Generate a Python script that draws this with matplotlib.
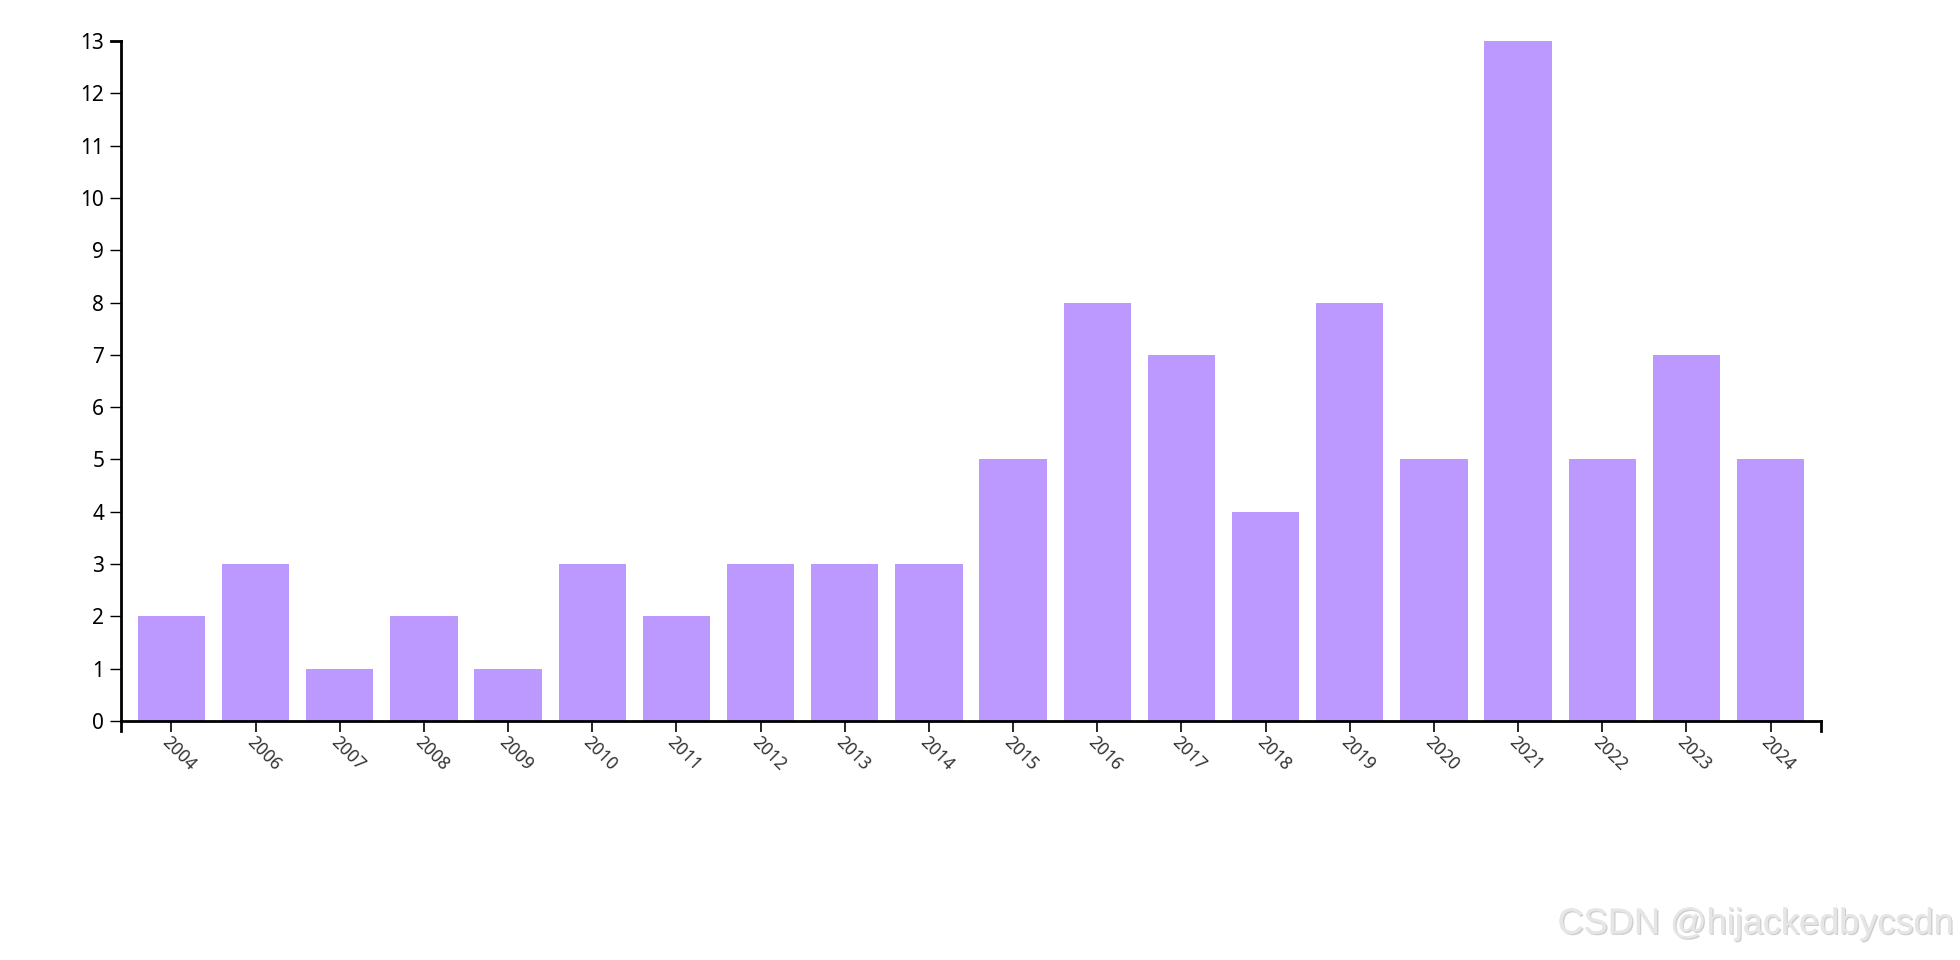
import matplotlib
matplotlib.use("Agg")
import matplotlib.pyplot as plt
import matplotlib.patheffects as pe

# data
years = ["2004", "2006", "2007", "2008", "2009", "2010", "2011", "2012", "2013", "2014",
         "2015", "2016", "2017", "2018", "2019", "2020", "2021", "2022", "2023", "2024"]
counts = [2, 3, 1, 2, 1, 3, 2, 3, 3, 3, 5, 8, 7, 4, 8, 5, 13, 5, 7, 5]
yticks = list(range(0, 14))

BAR_COLOR = "#bc99ff"

plt.rcParams["font.family"] = ["Noto Sans", "DejaVu Sans"]

fig = plt.figure(figsize=(19.6, 9.6), dpi=100)
ax = fig.add_axes([121 / 1960, 1 - 721 / 960, 1700 / 1960, 680 / 960])

x = list(range(len(years)))
ax.bar(x, counts, width=0.8, color=BAR_COLOR, zorder=2)
ax.set_xlim(-0.6, len(years) - 0.4)
ax.set_ylim(0, 13)

ax.set_yticks(yticks)
ax.set_yticklabels([str(v) for v in yticks], fontsize=15, color="black")
ax.set_xticks(x)
ax.set_xticklabels(years, fontsize=12.5, color="#333333", rotation=-45,
                   ha="left", va="top", rotation_mode="anchor")

ax.tick_params(axis="y", length=8, width=1, pad=4, color="black")
ax.tick_params(axis="x", length=8, width=1.2, pad=1, color="black")

for side in ["top", "right"]:
    ax.spines[side].set_visible(False)
for side in ["left", "bottom"]:
    ax.spines[side].set_linewidth(2)
    ax.spines[side].set_color("black")

# d3-style outer ticks at the ends of the domain lines
tr = ax.transAxes
ax.plot([0, 0], [0, -10 / 680], transform=tr, color="black", lw=2, clip_on=False)
ax.plot([1, 1], [0, -10 / 680], transform=tr, color="black", lw=2, clip_on=False)
ax.plot([0, -10 / 1700], [1, 1], transform=tr, color="black", lw=2, clip_on=False)

# watermark
fig.text(0.9965, 0.0375, "CSDN @hijackedbycsdn", ha="right", va="center",
         fontsize=26, color="#e6e6e6", family=["Liberation Sans", "DejaVu Sans"],
         path_effects=[pe.withSimplePatchShadow(offset=(1, -1), shadow_rgbFace="#b0b0b0", alpha=0.6),
                       pe.Normal()])

fig.savefig("out.png", dpi=100, facecolor="white")
